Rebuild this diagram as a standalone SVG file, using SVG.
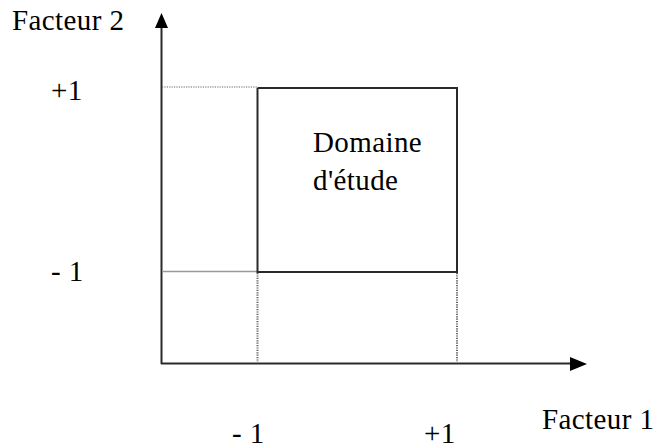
<svg xmlns="http://www.w3.org/2000/svg" width="657" height="448" viewBox="0 0 657 448">
<style>
.t{font-family:"Liberation Serif","Times New Roman",serif;font-size:29px;letter-spacing:0.4px;fill:#000}
.ax{stroke:#2a2a2a;stroke-width:2;fill:none}
.sol{stroke:#2a2a2a;stroke-width:2;fill:none}
.dot{stroke:#666;stroke-width:2;stroke-dasharray:1.2 1.2;fill:none}
.lt{stroke:#999;stroke-width:1.5;fill:none}
.ah{fill:#000}
</style>
<rect width="657" height="448" fill="#fff"/>
<g id="connectors">
  <line class="ax" x1="161.5" y1="364" x2="161.5" y2="24"/>
  <polygon class="ah" points="161.5,13 155,28 168,28"/>
  <line class="ax" x1="161" y1="363.5" x2="576" y2="363.5"/>
  <polygon class="ah" points="587,364 570,357 570,371"/>
  <line class="dot" x1="257.5" y1="273" x2="257.5" y2="362"/>
  <line class="dot" x1="457" y1="273" x2="457" y2="362"/>
  <line class="dot" x1="162" y1="87" x2="257" y2="87" style="stroke-width:1.2"/>
  <line class="lt" x1="162" y1="271.5" x2="257" y2="271.5"/>
</g>
<g id="domaine">
  <polyline class="sol" points="257.5,88 457,88 457,272 257.5,272 257.5,88"/>
  <text class="t" x="313" y="152">Domaine</text>
  <text class="t" x="313" y="190">d'étude</text>
</g>
<g id="labels">
  <text class="t" x="12" y="30">Facteur 2</text>
  <text class="t" x="51" y="100">+1</text>
  <text class="t" x="51" y="281">- 1</text>
  <text class="t" x="232" y="443">- 1</text>
  <text class="t" x="424" y="443">+1</text>
  <text class="t" x="542" y="429">Facteur 1</text>
</g>
</svg>
